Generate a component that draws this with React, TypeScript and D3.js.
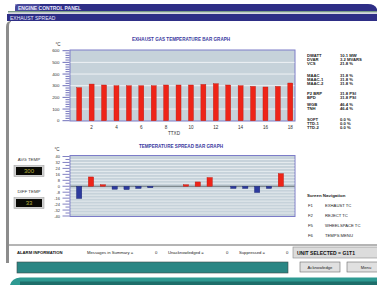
import React from 'react';
import * as d3 from 'd3';

const channels = [1, 2, 3, 4, 5, 6, 7, 8, 9, 10, 11, 12, 13, 14, 15, 16, 17, 18];
const exhaustTemps = [283, 314, 306, 300, 300, 300, 300, 306, 306, 306, 311, 317, 306, 300, 294, 289, 294, 323];
const spreadValues = [-16.5, 12.5, 2, -4, -4.5, -3, -2, 0, 0, 2, 5.8, 11.7, 0, -3, -3, -8.5, -3, 17];
const tempTicks = [0, 100, 200, 300, 400, 500, 600];
const spreadTicks = [-40, -32, -24, -16, -8, 0, 8, 16, 24, 32, 40];
const channelTickLabels = [2, 4, 6, 8, 10, 12, 14, 16, 18];

const statusGroups = [
  [['DWATT', '10.1 MW'], ['DVAR', '3.2 MVARS'], ['VCS', '21.8 %']],
  [['MAAC', '31.8 %'], ['MAAC-1', '31.8 %'], ['MAAC-2', '31.8 %']],
  [['P2 BRP', '31.8 PSI'], ['BPD', '31.8 PSI']],
  [['WGB', '46.4 %'], ['TNH', '46.4 %']],
  [['SOFT', '0.0 %'], ['TTD-1', '0.0 %'], ['TTD-2', '0.0 %']],
];
const navKeys = ['F1', 'F2', 'F5', 'F6'];
const navLabels = ['EXHAUST TC', 'REJECT TC', 'WHEELSPACE TC', 'TEMPS MENU'];
const avgTemp = '300';
const diffTemp = '33';
const alarmCounts = [
  ['Messages in Summary =', '0'],
  ['Unacknowledged =', '0'],
  ['Suppressed =', '0'],
];

const FONT = 'Liberation Sans, Arial, sans-serif';
const NAVY = '#2e2e86';
const TITLE = '#3a3aa0';
const PLOT_BG = '#c6d2da';
const PLOT_BORDER = '#7c7cc8';
const TICK = '#4a4aa8';

export default function App() {
  const xTop = d3.scaleBand<number>().domain(channels).range([73, 296.5]).paddingInner(0.6).paddingOuter(0.3);
  const yTop = d3.scaleLinear().domain([0, 600]).range([120.7, 50.7]);
  const xBot = d3.scaleBand<number>().domain(channels).range([72.9, 287.1]).paddingInner(0.55).paddingOuter(0.3);
  const yBot = d3.scaleLinear().domain([-40, 40]).range([216, 156.5]);

  const topMinor = d3.range(0, 601, 20);
  const botMinor = d3.range(-40, 41, 4);

  const statusRows: { label: string; value: string; y: number }[] = [];
  const groupStarts = [57, 77, 95, 106, 121];
  statusGroups.forEach((g, gi) => {
    g.forEach((r, ri) => statusRows.push({ label: r[0], value: r[1], y: groupStarts[gi] + ri * 4 }));
  });

  return (
    <svg width={377} height={285} style={{ position: 'absolute', left: 0, top: 0, background: '#ffffff' }} fontFamily={FONT}>
      {/* title bars */}
      <path d="M15,8 Q15,4 19,4 L368,4 Q375,4 377,9 L377,11 L15,11 Z" fill={NAVY} />
      <rect x={15} y={4} width={25} height={7} fill="#5a5aa8" opacity={0.6} />
      <rect x={8} y={11} width={369} height={1.6} fill="#7a9a88" />
      <rect x={8} y={12.6} width={369} height={1.4} fill="#d8d8e0" />
      <rect x={7} y={14} width={370} height={7} fill={NAVY} />
      <text x={18} y={9.6} fontSize={5} fill="#e8e8ff" fontWeight="bold">ENGINE CONTROL PANEL</text>
      <text x={10} y={19.5} fontSize={5} fill="#e8e8ff">EXHAUST SPREAD</text>
      {/* left frame */}
      <path d="M6,27 Q6,21 11,21 L11,22 Q9,22 9,27 L9,263 L6,263 Z" fill="#8c8c8c" />

      {/* top chart */}
      <text x={181} y={41} fontSize={4.6} fill={TITLE} fontWeight="bold" textAnchor="middle">EXHAUST GAS TEMPERATURE BAR GRAPH</text>
      <text x={58} y={46} fontSize={4.5} fill="#333" textAnchor="middle">°C</text>
      <rect x={70} y={50} width={225} height={71} fill={PLOT_BG} stroke={PLOT_BORDER} strokeWidth={1} />
      {tempTicks.filter(t => t > 0 && t < 600).map(t => (
        <line key={'tg' + t} x1={70.5} x2={294.5} y1={yTop(t)} y2={yTop(t)} stroke="#f4f6f8" strokeWidth={0.9} />
      ))}
      {topMinor.map(t => (
        <line key={'tm' + t} x1={t % 100 === 0 ? 62.5 : 65.5} x2={69.5} y1={yTop(t)} y2={yTop(t)} stroke={TICK} strokeWidth={0.8} />
      ))}
      {tempTicks.map(t => (
        <text key={'tl' + t} x={59.5} y={yTop(t) + 1.6} fontSize={4.4} fill="#333" textAnchor="end">{t}</text>
      ))}
      {channels.map((c, i) => (
        <rect key={'tb' + c} x={xTop(c)} y={yTop(exhaustTemps[i])} width={xTop.bandwidth()} height={yTop(0) - yTop(exhaustTemps[i])} fill="#ee2418" stroke="#b81810" strokeWidth={0.4} />
      ))}
      {channelTickLabels.map(c => (
        <text key={'xl' + c} x={(xTop(c) as number) + xTop.bandwidth() / 2} y={129} fontSize={4.6} fill="#333" textAnchor="middle">{c}</text>
      ))}
      <text x={174} y={134.5} fontSize={4.6} fill="#333" textAnchor="middle">TTXD</text>

      {/* right status panel */}
      {statusRows.map((r, i) => (
        <g key={'sr' + i}>
          <text x={307} y={r.y} fontSize={4.2} fill="#222" fontWeight="bold">{r.label}</text>
          <text x={340} y={r.y} fontSize={4.2} fill="#222" fontWeight="bold">{r.value}</text>
        </g>
      ))}

      {/* bottom chart */}
      <text x={181} y={148} fontSize={4.6} fill={TITLE} fontWeight="bold" textAnchor="middle">TEMPERATURE SPREAD BAR GRAPH</text>
      <text x={57} y={151} fontSize={4.5} fill="#333" textAnchor="middle">°C</text>
      <rect x={70} y={155.5} width={225} height={61} fill={PLOT_BG} stroke={PLOT_BORDER} strokeWidth={1} />
      {botMinor.filter(t => t > -40 && t < 40 && t !== 0).map(t => (
        <line key={'bg' + t} x1={70.5} x2={294.5} y1={yBot(t)} y2={yBot(t)} stroke="#f4f6f8" strokeWidth={0.7} />
      ))}
      <line x1={70.5} x2={294.5} y1={yBot(0)} y2={yBot(0)} stroke="#505a60" strokeWidth={0.8} />
      {botMinor.map(t => (
        <line key={'bm' + t} x1={t % 8 === 0 ? 62.5 : 65.5} x2={69.5} y1={yBot(t)} y2={yBot(t)} stroke={TICK} strokeWidth={0.7} />
      ))}
      {spreadTicks.map(t => (
        <text key={'bl' + t} x={60} y={yBot(t) + 1.5} fontSize={4} fill="#333" textAnchor="end">{t}</text>
      ))}
      {channels.map((c, i) => {
        const v = spreadValues[i];
        if (v === 0) return null;
        const y0 = yBot(Math.max(0, v));
        const y1 = yBot(Math.min(0, v));
        return (
          <rect key={'bb' + c} x={xBot(c)} y={y0} width={xBot.bandwidth()} height={y1 - y0}
            fill={v > 0 ? '#ee2418' : '#2c3a9e'} stroke={v > 0 ? '#b81810' : '#1c2670'} strokeWidth={0.4} />
        );
      })}

      {/* left displays */}
      <text x={29} y={161} fontSize={4.4} fill="#333" textAnchor="middle">AVG TEMP</text>
      <rect x={14} y={165.5} width={30} height={11} fill="#d0d0d0" stroke="#a8a8a8" strokeWidth={0.6} />
      <rect x={16} y={167} width={26} height={8} fill="#0a0a06" />
      <text x={29} y={173.3} fontSize={6} fill="#b8b040" textAnchor="middle">{avgTemp}</text>
      <text x={29} y={193} fontSize={4.4} fill="#333" textAnchor="middle">DIFF TEMP</text>
      <rect x={14} y={197.5} width={30} height={11} fill="#d0d0d0" stroke="#a8a8a8" strokeWidth={0.6} />
      <rect x={16} y={199} width={26} height={8} fill="#0a0a06" />
      <text x={29} y={205.3} fontSize={6} fill="#b8b040" textAnchor="middle">{diffTemp}</text>

      {/* screen navigation */}
      <text x={307} y={197} fontSize={4.4} fill="#222" fontWeight="bold">Screen Navigation</text>
      {navKeys.map((k, i) => (
        <g key={'nv' + k}>
          <text x={308} y={207 + i * 10} fontSize={4.2} fill="#222">{k}</text>
          <text x={325} y={207 + i * 10} fontSize={4.2} fill="#222">{navLabels[i]}</text>
        </g>
      ))}

      {/* alarm bar */}
      <line x1={9} x2={377} y1={245} y2={245} stroke="#6a6a6a" strokeWidth={1} />
      <text x={17} y={254} fontSize={4.2} fill="#111" fontWeight="bold">ALARM INFORMATION</text>
      <text x={87} y={254} fontSize={4.2} fill="#222">{alarmCounts[0][0]}</text>
      <text x={155} y={254} fontSize={4.2} fill="#222">{alarmCounts[0][1]}</text>
      <text x={168} y={254} fontSize={4.2} fill="#222">{alarmCounts[1][0]}</text>
      <text x={226} y={254} fontSize={4.2} fill="#222">{alarmCounts[1][1]}</text>
      <text x={239} y={254} fontSize={4.2} fill="#222">{alarmCounts[2][0]}</text>
      <text x={286} y={254} fontSize={4.2} fill="#222">{alarmCounts[2][1]}</text>
      <rect x={293} y={247} width={86} height={11} fill="#dcdcdc" stroke="#8a8a8a" strokeWidth={0.6} />
      <text x={297} y={254.5} fontSize={5} fill="#111" fontWeight="bold">UNIT SELECTED = G1T1</text>
      <rect x={17} y={262} width={271} height={11} fill="#2a8684" stroke="#3c4c4c" strokeWidth={0.6} />
      <rect x={300} y={262} width={40} height={10} fill="#e0e0e0" stroke="#6c6c6c" strokeWidth={0.6} />
      <text x={320} y={268.5} fontSize={4.2} fill="#222" textAnchor="middle">Acknowledge</text>
      <rect x={347} y={262} width={32} height={10} fill="#e0e0e0" stroke="#6c6c6c" strokeWidth={0.6} />
      <text x={366} y={268.5} fontSize={4.2} fill="#222" textAnchor="middle">Menu</text>
      <path d="M10,285 Q12,278 20,277.5 L377,277.5 L377,285 Z" fill="#2e9a92" />
      <rect x={20} y={281.5} width={357} height={3.5} fill="#1e6e6a" />
    </svg>
  );
}
